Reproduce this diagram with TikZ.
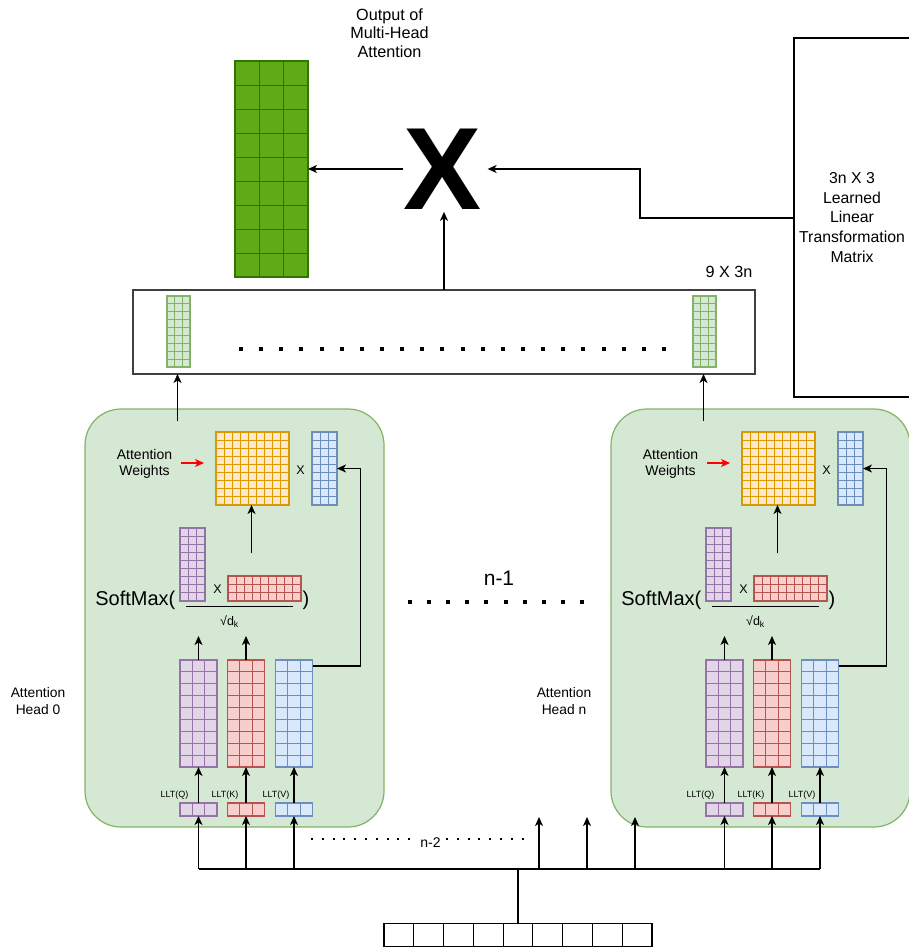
\documentclass[tikz,border=0pt]{standalone}
\usepackage{fontspec}
\setmainfont{Liberation Sans}
\usetikzlibrary{arrows.meta,calc}

\definecolor{gfill}{HTML}{D5E8D4}\definecolor{gline}{HTML}{82B366}
\definecolor{ofill}{HTML}{FFE6CC}\definecolor{oline}{HTML}{D79B00}
\definecolor{bfill}{HTML}{DAE8FC}\definecolor{bline}{HTML}{6C8EBF}
\definecolor{pfill}{HTML}{E1D5E7}\definecolor{pline}{HTML}{9673A6}
\definecolor{rfill}{HTML}{F8CECC}\definecolor{rline}{HTML}{B85450}
\definecolor{dgfill}{HTML}{60A917}\definecolor{dgline}{HTML}{2D7600}

% 在矩形节点里画格子：节点, 列, 行, 线色
\newcommand\cellgrid[4]{%
  \pgfmathtruncatemacro\gcols{#2-1}%
  \pgfmathtruncatemacro\grows{#3-1}%
  \ifnum\gcols>0 \foreach \i in {1,...,\gcols}
    \draw[#4,line width=1pt] ($(#1.south west)!\i/#2!(#1.south east)$) -- ($(#1.north west)!\i/#2!(#1.north east)$);\fi
  \ifnum\grows>0 \foreach \j in {1,...,\grows}
    \draw[#4,line width=1pt] ($(#1.south west)!\j/#3!(#1.north west)$) -- ($(#1.south east)!\j/#3!(#1.north east)$);\fi
}

\tikzset{
  mat/.style 2 args={draw, outer sep=0pt, inner sep=0pt, minimum width=#1, minimum height=#2, line width=1.2pt},
  head/.style={draw=gline, fill=gfill, rounded corners=36pt, minimum width=299, minimum height=418, outer sep=0pt},
  arr/.style={-{Stealth[length=9pt,width=8pt,inset=2.5pt]}},
  lbl/.style={font=\fontsize{16.2}{18.7}\selectfont, align=center, inner sep=0pt},
  hlbl/.style={font=\fontsize{13.8}{17}\selectfont, align=center, inner sep=0pt},
  small/.style={font=\fontsize{14}{16.5}\selectfont, align=center, inner sep=0pt},
  sym/.style={font=\fontsize{12.5}{14}\selectfont, inner sep=0pt},
  big/.style={font=\fontsize{20}{22}\selectfont, inner sep=0pt},
  llt/.style={font=\fontsize{9}{10}\selectfont, inner sep=0pt},
}

\begin{document}
\begin{tikzpicture}[x=1pt,y=-1pt,line width=1.2pt]
  \useasboundingbox (0,0) rectangle (909,950);

  % 两个注意力头
  \foreach \dx/\h/\hl in {0/a/0,526/b/n}{
    \node[head] (head\h) at (234.5+\dx,618) {};
    \node[hlbl] (hl\h) at (38+\dx,701) {Attention\\Head \hl};
    % 注意力权重 X V
    \node[mat={73}{73}, draw=oline, fill=ofill] (w\h) at (252.5+\dx,468.5) {};
    \cellgrid{w\h}{9}{9}{oline}
    \node[mat={25}{73}, draw=bline, fill=bfill] (vs\h) at (324.5+\dx,468.5) {};
    \cellgrid{vs\h}{3}{9}{bline}
    \node[sym] (xa\h) at (300.5+\dx,470) {X};
    \node[small] (aw\h) at (144.5+\dx,464) {Attention\\Weights};
    \draw[arr, red, shorten <=8pt, shorten >=12pt] (aw\h.east |- 0,463) -- (w\h.west |- 0,463);
    % SoftMax(Q K / sqrt(dk))
    \node[mat={25}{73}, draw=pline, fill=pfill] (qt\h) at (192.5+\dx,564.5) {};
    \cellgrid{qt\h}{3}{9}{pline}
    \node[sym] (xb\h) at (217.5+\dx,589) {X};
    \node[mat={73}{25}, draw=rline, fill=rfill] (kt\h) at (264.5+\dx,588.5) {};
    \cellgrid{kt\h}{9}{3}{rline}
    \node[big, anchor=base east] (sm\h) at (176+\dx,605) {SoftMax(};
    \node[big, anchor=base west] (cp\h) at (302+\dx,605) {)};
    \draw (186+\dx,606.7) -- (293+\dx,606.7);
    \node[sym, anchor=base] (dk\h) at (229.5+\dx,625) {√d\textsubscript{k}};
    \coordinate (st\h) at (251.5+\dx,553);
    \draw[arr] (st\h) -- (st\h |- w\h.south);
    % Q K V 及 LLT
    \foreach \m/\x/\lx/\t/\lc/\fc in {q/198.5/174.5/Q/pline/pfill, k/246/225/K/rline/rfill, v/294/276/V/bline/bfill}{
      \node[mat={37}{107}, draw=\lc, fill=\fc] (\m\h) at (\x+\dx,713.5) {};
      \cellgrid{\m\h}{3}{9}{\lc}
      \node[mat={37}{13}, draw=\lc, fill=\fc] (l\m\h) at (\x+\dx,809.5) {};
      \cellgrid{l\m\h}{3}{1}{\lc}
      \node[llt, anchor=base] (t\m\h) at (\lx+\dx,797) {LLT(\t)};
      \draw[arr] (l\m\h.north) -- (\m\h.south);
    }
    \draw[arr] (q\h.north) -- ++(0,-24);
    \draw[arr] (k\h.north) -- ++(0,-24);
    \draw[arr] ($(v\h.north east)+(0,6)$) -- ++(48,0) |- (vs\h.east);
    \coordinate (ho\h) at (177.5+\dx,421);
  }

  % 拼接后的 9 X 3n
  \node[draw=black!75, minimum width=622, minimum height=84, outer sep=0pt] (cat) at (444,332) {};
  \foreach \g/\x in {ca/178.5, cb/704.5}{
    \node[mat={23}{71}, draw=gline, fill=gfill] (\g) at (\x,331.5) {};
    \cellgrid{\g}{3}{9}{gline}
  }
  \foreach \i in {0,...,21}
    \fill (239+20.14*\i,347) rectangle ++(4,4);
  \node[lbl, anchor=base] (dim) at (729,277) {9 X 3n};
  \draw[arr] (hoa) -- (hoa |- cat.south);
  \draw[arr] (hob) -- (hob |- cat.south);

  % 输出
  \node[mat={73}{216}, draw=dgline, fill=dgfill] (out) at (271.5,169) {};
  \cellgrid{out}{3}{9}{dgline}
  \node[lbl] (outl) at (389.5,33) {Output of\\Multi-Head\\Attention};
  \node[font=\fontsize{117}{117}\selectfont\bfseries, inner sep=0pt] (mult) at (443,169) {X};
  \node[draw, minimum width=116, minimum height=359, outer sep=0pt, align=center,
        font=\fontsize{15.8}{19.8}\selectfont] (ltm) at (852,217.5)
        {3n X 3\\Learned\\Linear\\Transformation\\Matrix};
  \draw[arr] (mult) -- (out);
  \draw[arr, line width=2pt, shorten >=5pt] (ltm.west) -- ++(-154,0) |- (mult.east);
  \draw[arr, line width=2pt, shorten >=2pt] (cat.north) -- (cat.north |- mult.south);

  % 中间的 n-1
  \node[font=\fontsize{21}{21}\selectfont, inner sep=0pt] (nm1) at (499,578.5) {n-1};
  \foreach \i in {0,...,9}
    \fill (408+19.1*\i,600) rectangle ++(4,4);

  % 输入与总线
  \node[mat={268}{23.5}, draw=black, fill=white] (inp) at (518,935) {};
  \cellgrid{inp}{9}{1}{black}
  \coordinate (bus) at (518,869);
  \draw (inp.north) -- (bus);
  \draw (lqa.south |- bus) -- (lvb.south |- bus);
  \foreach \n in {lqa,lka,lva,lqb,lkb,lvb}
    \draw[arr] (\n.south |- bus) -- (\n.south);
  \foreach \i/\x in {1/539,2/587,3/635}{
    \coordinate (fr\i) at (\x,817);
    \draw[arr] (fr\i |- bus) -- (fr\i);
  }
  \foreach \x in {312,322.8,...,413}
    \fill (\x-1,838.3) rectangle ++(2,2);
  \foreach \x in {447,457.8,...,526}
    \fill (\x-1,838.3) rectangle ++(2,2);
  \node[font=\fontsize{14}{14}\selectfont, inner sep=0pt] (nm2) at (430.5,843) {n-2};
\end{tikzpicture}
\end{document}
